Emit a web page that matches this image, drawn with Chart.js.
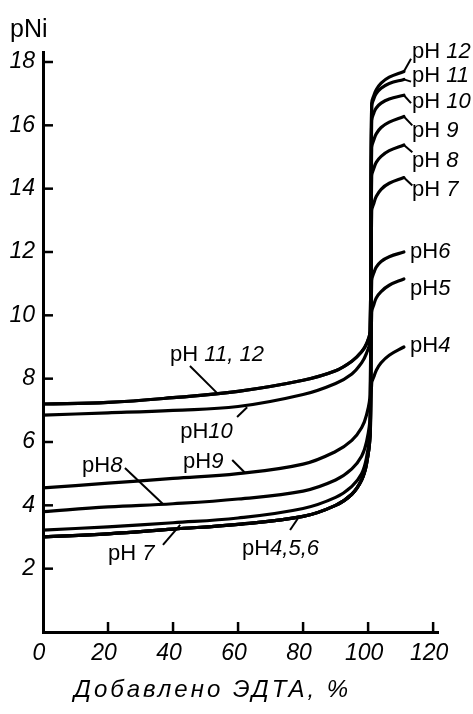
<!DOCTYPE html>
<html>
<head>
<meta charset="utf-8">
<script src="https://cdn.jsdelivr.net/npm/chart.js@4.4.0/dist/chart.umd.min.js"></script>
<style>
  html, body { margin: 0; padding: 0; background: #fff; }
  #wrap { width: 473px; height: 714px; }
</style>
</head>
<body>
<div id="wrap"><canvas id="c" width="473" height="714"></canvas></div>
<script>
// EDTA added (%) up to the foot of the jump
const addedBefore = [0, 20, 40, 60, 80, 90, 95, 98, 99.5, 100.6];
// EDTA added (%) from the top of the jump on
const addedAfter = [101.1, 101.8, 102.5, 104, 106.5, 111];

// pNi before equivalence (some pH values share one curve)
const pNiBefore_pH11_12 = [7.2, 7.25, 7.4, 7.6, 7.95, 8.25, 8.55, 8.85, 9.1, 9.5];
const pNiBefore_pH10    = [6.85, 6.92, 7.0, 7.12, 7.5, 7.85, 8.15, 8.5, 8.8, 9.2];
const pNiBefore_pH9     = [4.55, 4.7, 4.85, 5.0, 5.3, 5.7, 6.05, 6.45, 6.85, 7.5];
const pNiBefore_pH8     = [3.8, 3.95, 4.05, 4.2, 4.45, 4.8, 5.15, 5.55, 6.0, 6.8];
const pNiBefore_pH7     = [3.22, 3.32, 3.45, 3.6, 3.9, 4.25, 4.6, 5.0, 5.5, 6.4];
const pNiBefore_pH4_6   = [3.0, 3.1, 3.25, 3.4, 3.65, 4.0, 4.35, 4.8, 5.3, 6.2];

// pNi after equivalence, one curve per pH
const pNiAfter_pH12 = [16.7, 16.95, 17.12, 17.33, 17.52, 17.7];
const pNiAfter_pH11 = [16.6, 16.85, 17.0, 17.17, 17.32, 17.45];
const pNiAfter_pH10 = [16.15, 16.4, 16.55, 16.7, 16.83, 16.95];
const pNiAfter_pH9  = [15.3, 15.55, 15.73, 15.93, 16.1, 16.28];
const pNiAfter_pH8  = [14.4, 14.65, 14.83, 15.02, 15.2, 15.38];
const pNiAfter_pH7  = [13.3, 13.55, 13.75, 13.98, 14.17, 14.35];
const pNiAfter_pH6  = [11.1, 11.35, 11.52, 11.7, 11.85, 12.0];
const pNiAfter_pH5  = [10.1, 10.35, 10.55, 10.75, 10.95, 11.15];
const pNiAfter_pH4  = [7.86, 8.07, 8.26, 8.5, 8.74, 9.0];

// axis tick values
const xTicks = [0, 20, 40, 60, 80, 100, 120];
const yTicks = [2, 4, 6, 8, 10, 12, 14, 16, 18];

const curves = [
  [pNiBefore_pH11_12, pNiAfter_pH12],
  [pNiBefore_pH11_12, pNiAfter_pH11],
  [pNiBefore_pH10, pNiAfter_pH10],
  [pNiBefore_pH9, pNiAfter_pH9],
  [pNiBefore_pH8, pNiAfter_pH8],
  [pNiBefore_pH7, pNiAfter_pH7],
  [pNiBefore_pH4_6, pNiAfter_pH6],
  [pNiBefore_pH4_6, pNiAfter_pH5],
  [pNiBefore_pH4_6, pNiAfter_pH4]
];

function toPoints(before, after) {
  const pts = addedBefore.map((x, i) => ({ x, y: before[i] }));
  return pts.concat(addedAfter.map((x, i) => ({ x, y: after[i] })));
}

// curve captions: "pH" upright + italic number, placed in data units, with short leader strokes
const captions = [
  { pre: 'pH ', num: '12', at: [113.5, 18.12], from: [110.8, 17.66], to: [113.2, 18.1] },
  { pre: 'pH ', num: '11', at: [113.5, 17.37], from: [111.0, 17.45], to: [113.2, 17.38] },
  { pre: 'pH ', num: '10', at: [113.5, 16.55], from: [111.0, 16.95], to: [113.2, 16.7] },
  { pre: 'pH ', num: '9',  at: [113.5, 15.63], from: [111.0, 16.28], to: [113.6, 16.0] },
  { pre: 'pH ', num: '8',  at: [113.5, 14.68], from: [111.0, 15.38], to: [113.6, 15.15] },
  { pre: 'pH ', num: '7',  at: [113.5, 13.77], from: [111.0, 14.35], to: [113.6, 14.1] },
  { pre: 'pH',  num: '6',  at: [112.9, 11.81] },
  { pre: 'pH',  num: '5',  at: [112.9, 10.64] },
  { pre: 'pH',  num: '4',  at: [112.9, 8.84] },
  { pre: 'pH ', num: '11, 12', at: [39.1, 8.55], from: [45.2, 8.4], to: [53.5, 7.55] },
  { pre: 'pH',  num: '10', at: [42.2, 6.13], from: [59.7, 6.79], to: [62.8, 7.1] },
  { pre: 'pH',  num: '9',  at: [43.1, 5.18], from: [58.2, 5.43], to: [62.2, 5.02] },
  { pre: 'pH',  num: '8',  at: [12.0, 5.05], from: [25.2, 5.18], to: [36.9, 4.04] },
  { pre: 'pH ', num: '7',  at: [20.0, 2.27], from: [36.9, 2.75], to: [42.2, 3.38] },
  { pre: 'pH',  num: '4,5,6', at: [61.2, 2.43], from: [76.0, 3.22], to: [78.5, 3.6] }
];

const FONT = '"Liberation Sans", Arial, sans-serif';

// inward tick marks on both axes
const innerTicks = {
  id: 'innerTicks',
  afterDraw(chart) {
    const { ctx, chartArea: a, scales: { x, y } } = chart;
    ctx.save();
    ctx.strokeStyle = '#000';
    ctx.lineWidth = 2.5;
    x.ticks.forEach(t => {
      if (t.value === 0) return;
      const px = x.getPixelForValue(t.value);
      ctx.beginPath(); ctx.moveTo(px, a.bottom); ctx.lineTo(px, a.bottom - 10); ctx.stroke();
    });
    y.ticks.forEach(t => {
      if (t.value === 0) return;
      const py = y.getPixelForValue(t.value);
      ctx.beginPath(); ctx.moveTo(a.left, py); ctx.lineTo(a.left + 10, py); ctx.stroke();
    });
    ctx.restore();
  }
};

// captions, leaders and axis titles
const annotate = {
  id: 'annotate',
  afterDraw(chart) {
    const { ctx, chartArea: a, scales: { x, y } } = chart;
    ctx.save();
    ctx.fillStyle = '#000';
    ctx.strokeStyle = '#000';
    ctx.lineWidth = 2;
    ctx.textBaseline = 'alphabetic';
    captions.forEach(c => {
      if (c.from) {
        ctx.beginPath();
        ctx.moveTo(x.getPixelForValue(c.from[0]), y.getPixelForValue(c.from[1]));
        ctx.lineTo(x.getPixelForValue(c.to[0]), y.getPixelForValue(c.to[1]));
        ctx.stroke();
      }
      const px = x.getPixelForValue(c.at[0]);
      const py = y.getPixelForValue(c.at[1]);
      ctx.font = `22px ${FONT}`;
      ctx.textAlign = 'left';
      ctx.fillText(c.pre, px, py);
      const w = ctx.measureText(c.pre).width;
      ctx.font = `italic 22px ${FONT}`;
      ctx.fillText(c.num, px + w, py);
    });
    // y axis title
    ctx.font = `25px ${FONT}`;
    ctx.textAlign = 'left';
    ctx.fillText('pNi', 10, 37);
    // x axis title
    ctx.font = `italic 24px ${FONT}`;
    ctx.letterSpacing = '3px';
    ctx.textAlign = 'left';
    ctx.fillText('Добавлено ЭДТА, %', a.left + 31, 697);
    ctx.restore();
  }
};

new Chart(document.getElementById('c'), {
  type: 'line',
  data: {
    datasets: curves.map(([b, af]) => ({
      data: toPoints(b, af),
      borderColor: '#000',
      borderWidth: 3.2,
      pointRadius: 0,
      fill: false,
      tension: 0.4,
      borderCapStyle: 'round',
      borderJoinStyle: 'round'
    }))
  },
  options: {
    responsive: false,
    animation: false,
    events: [],
    layout: { padding: { top: 52.5, right: 35, left: 0, bottom: 0 } },
    plugins: { legend: { display: false }, tooltip: { enabled: false } },
    scales: {
      x: {
        type: 'linear',
        min: 0,
        max: 121.5,
        afterFit(s) { s.height = 82; },
        afterBuildTicks(s) { s.ticks = xTicks.map(v => ({ value: v })); },
        grid: { display: true, drawOnChartArea: false, drawTicks: false },
        border: { display: true, color: '#000', width: 3 },
        ticks: {
          color: '#000',
          padding: 8,
          maxRotation: 0,
          autoSkip: false,
          labelOffset: -4,
          font: { family: FONT, size: 23, style: 'italic' }
        }
      },
      y: {
        type: 'linear',
        min: 0,
        max: 18.3,
        afterFit(s) { s.width = 43; },
        afterBuildTicks(s) { s.ticks = yTicks.map(v => ({ value: v })); },
        grid: { display: true, drawOnChartArea: false, drawTicks: false },
        border: { display: true, color: '#000', width: 3 },
        ticks: {
          color: '#000',
          padding: 8,
          autoSkip: false,
          font: { family: FONT, size: 23, style: 'italic' }
        }
      }
    }
  },
  plugins: [innerTicks, annotate]
});
</script>
</body>
</html>
